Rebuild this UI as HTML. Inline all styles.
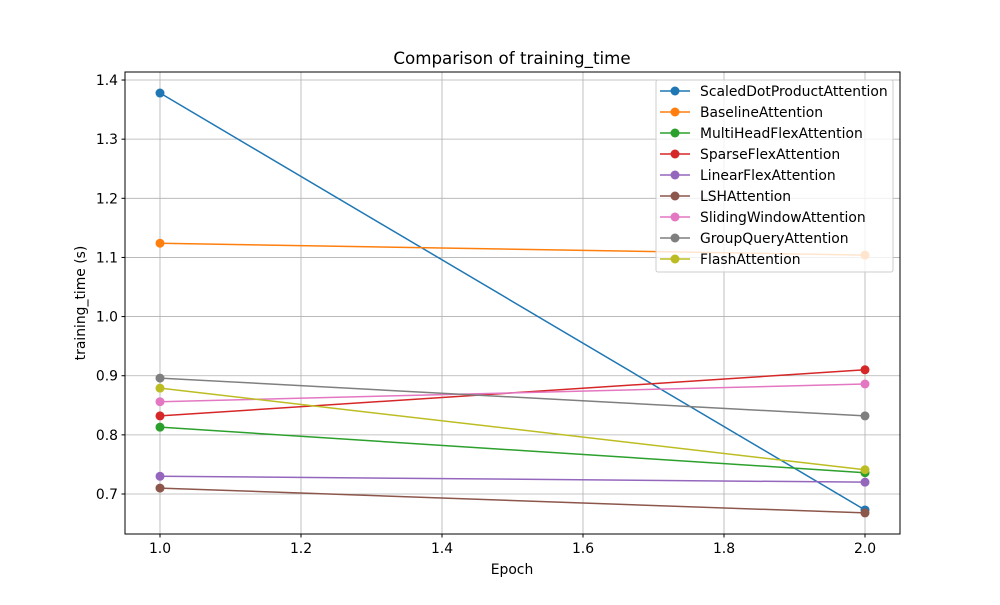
<!DOCTYPE html>
<html><head><meta charset="utf-8"><style>
body{margin:0;background:#fff}
text{font-family:"DejaVu Sans","Liberation Sans",sans-serif;fill:#000}
</style></head><body>
<svg id="chart" width="1000" height="600" xmlns="http://www.w3.org/2000/svg">
<rect width="1000" height="600" fill="#fff"/>
<g id="grid"></g>
<g id="series"></g>
<rect x="125" y="72" width="775" height="462" fill="none" stroke="#000" stroke-width="1"/>
<g id="ticks"></g>
<text x="512" y="64" font-size="16.7" text-anchor="middle">Comparison of training_time</text>
<text x="512" y="574" font-size="13.9" text-anchor="middle">Epoch</text>
<text transform="translate(85,303) rotate(-90)" font-size="13.9" text-anchor="middle">training_time (s)</text>
<g id="legend"></g>
</svg>
<script>
const epochs=[1.0,2.0];
const seriesNames=["ScaledDotProductAttention","BaselineAttention","MultiHeadFlexAttention","SparseFlexAttention","LinearFlexAttention","LSHAttention","SlidingWindowAttention","GroupQueryAttention","FlashAttention"];
const sdpa=[1.378,0.673];
const baseline=[1.124,1.104];
const multiHead=[0.813,0.736];
const sparse=[0.832,0.910];
const linear=[0.730,0.720];
const lsh=[0.710,0.668];
const sliding=[0.856,0.886];
const groupQuery=[0.896,0.832];
const flash=[0.879,0.741];
const xTicks=[1.0,1.2,1.4,1.6,1.8,2.0];
const yTicks=[0.7,0.8,0.9,1.0,1.1,1.2,1.3,1.4];
const allSeries=[sdpa,baseline,multiHead,sparse,linear,lsh,sliding,groupQuery,flash];
const colors=["#1f77b4","#ff7f0e","#2ca02c","#d62728","#9467bd","#8c564b","#e377c2","#7f7f7f","#bcbd22"];
const NS="http://www.w3.org/2000/svg";
function xs(v){return 160+(v-1.0)*705;}
function ys(v){return 494-(v-0.7)*591.4;}
function mk(tag,attrs,parent){const e=document.createElementNS(NS,tag);for(const k in attrs)e.setAttribute(k,attrs[k]);parent.appendChild(e);return e;}
const grid=document.getElementById('grid'),ticks=document.getElementById('ticks'),ser=document.getElementById('series'),leg=document.getElementById('legend');
xTicks.forEach(t=>{const x=xs(t);
 const g=mk('line',{x1:x,x2:x,y1:72,y2:534,stroke:'#b0b0b0','stroke-width':0.8},grid);
 
 
 mk('line',{x1:x,x2:x,y1:534,y2:537.5,stroke:'#000'},ticks);
 const l=mk('text',{x:x,y:553,'font-size':13.9,'text-anchor':'middle'},ticks);l.textContent=t.toFixed(1);
 
 
});
yTicks.forEach(t=>{const y=ys(t);
 const g=mk('line',{x1:125,x2:900,y1:y,y2:y,stroke:'#b0b0b0','stroke-width':0.8},grid);
 
 
 mk('line',{x1:121.5,x2:125,y1:y,y2:y,stroke:'#000'},ticks);
 const l=mk('text',{x:118,y:y+5,'font-size':13.9,'text-anchor':'end'},ticks);l.textContent=t.toFixed(1);
 
 
});
allSeries.forEach((s,i)=>{
 const g=mk('g',{},ser);
 
 
 mk('polyline',{points:s.map((v,j)=>xs(epochs[j])+','+ys(v)).join(' '),fill:'none',stroke:colors[i],'stroke-width':1.5},g);
 s.forEach((v,j)=>{const c=mk('circle',{cx:xs(epochs[j]),cy:ys(v),r:4.5,fill:colors[i]},g);
  
  });
});
const box=mk('rect',{x:656,y:80,width:237,height:192,rx:2,fill:'#fff','fill-opacity':0.8,stroke:'#ccc'},leg);


seriesNames.forEach((n,i)=>{const y=91+i*21;
 const g=mk('g',{},leg);
 
 
 mk('line',{x1:660,x2:690,y1:y,y2:y,stroke:colors[i],'stroke-width':1.5},g);
 mk('circle',{cx:675,cy:y,r:4.5,fill:colors[i]},g);
 const t=mk('text',{x:700,y:y+5,'font-size':13.9},g);t.textContent=n;
});
</script>
</body></html>
